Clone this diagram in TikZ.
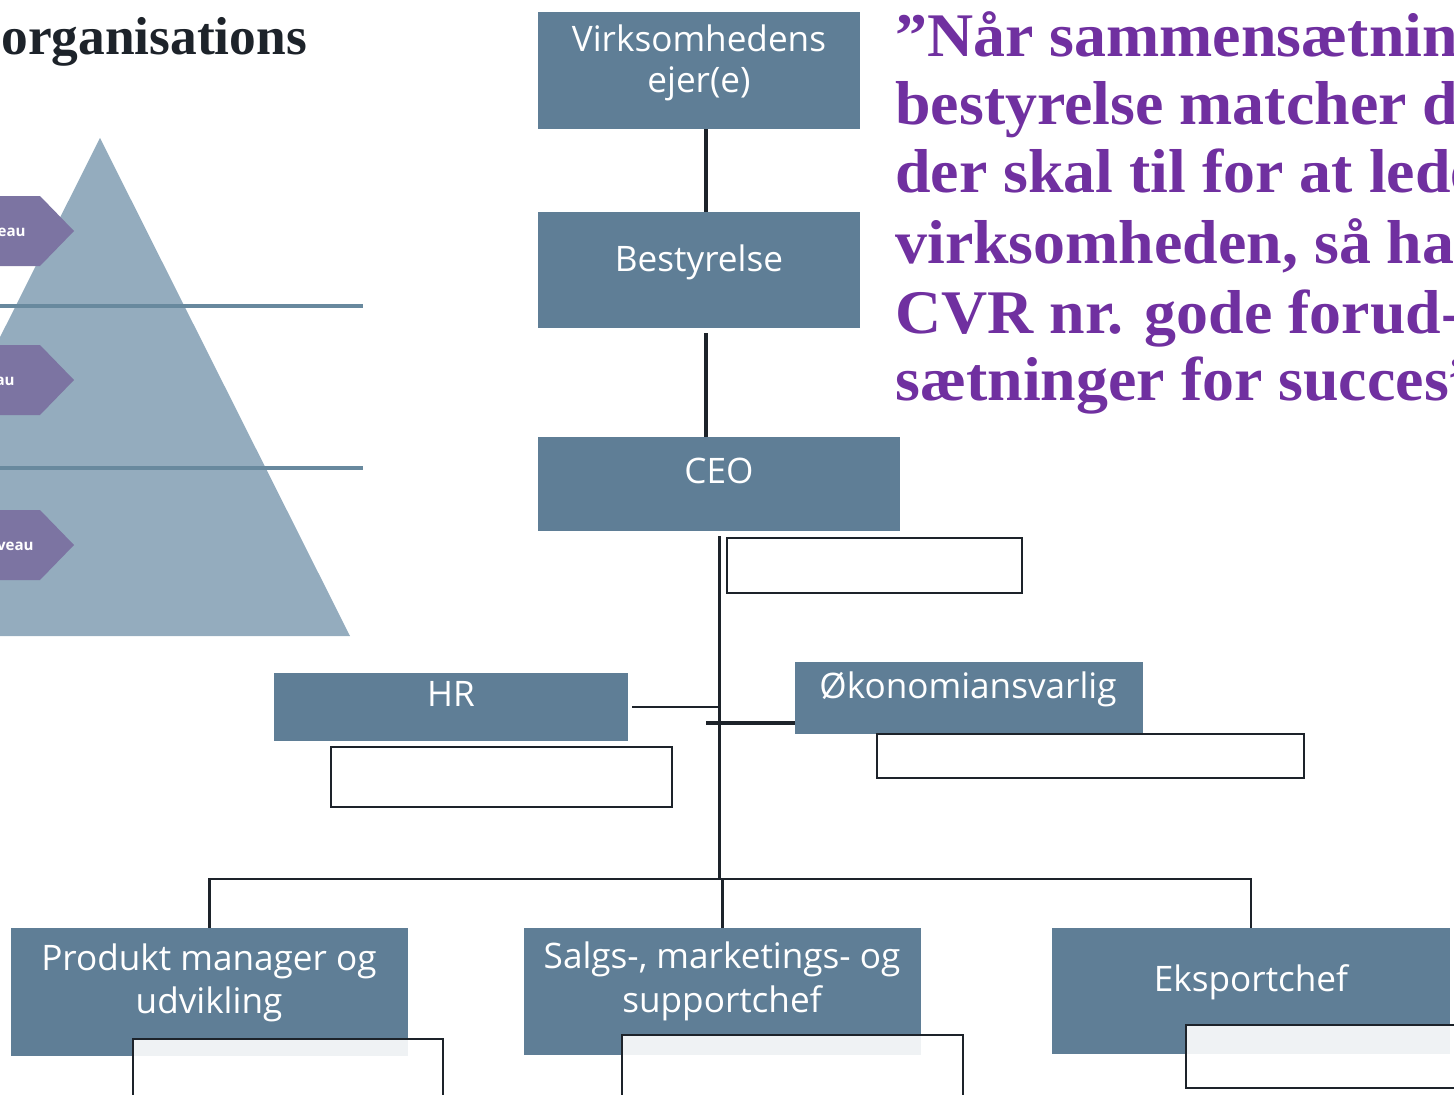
\documentclass[tikz,border=0pt]{standalone}
\usepackage{fontspec}
\setmainfont{Liberation Serif}
\newfontfamily\boxfont{Open Sans}
\newfontfamily\chevfont{Open Sans}
\usetikzlibrary{fit}
\definecolor{boxblue}{RGB}{95,126,150}
\definecolor{pyr}{RGB}{148,172,190}
\definecolor{pline}{RGB}{104,137,158}
\definecolor{chev}{RGB}{124,116,162}
\definecolor{qpurple}{RGB}{112,48,160}
\definecolor{ink}{RGB}{29,35,42}
\begin{document}
\begin{tikzpicture}[x=0.02cm,y=-0.02cm,
  orgbox/.style={fill=boxblue, draw=none, inner sep=0pt},
  emptybox/.style={draw=ink, line width=1.5pt, fill=white, fill opacity=0.9, inner sep=0pt},
  boxtext/.style={text=white, font=\boxfont\fontsize{20}{24}\selectfont, anchor=base, inner sep=0pt},
  chevtext/.style={text=white, font=\chevfont\bfseries\fontsize{8.6}{10}\selectfont, anchor=base east, inner sep=0pt},
  quote/.style={text=qpurple, font=\bfseries\fontsize{35.3}{40}\selectfont, anchor=base west, inner sep=0pt},
  title/.style={text=ink, font=\bfseries\fontsize{30.4}{34}\selectfont, anchor=base west, inner sep=0pt},
  thickconn/.style={draw=ink, line width=2.3pt},
  midconn/.style={draw=ink, line width=1.7pt},
  thinconn/.style={draw=ink, line width=1.3pt},
  levelline/.style={draw=pline, line width=1.9pt},
  chevron/.style={fill=chev}]
\useasboundingbox (0,0) rectangle (1454,1095);
\clip (0,0) rectangle (1454,1095);

% title
\node[title] (title) at (1,55) {organisations};

% pyramid
\fill[pyr] (100,138) -- (350,636) -- (-150,636) -- cycle;
\draw[levelline] (-10,306) -- (363,306);
\draw[levelline] (-10,468) -- (363,468);
\fill[chevron] (-150,196) -- (40,196) -- (74,231) -- (40,266) -- (-150,266) -- cycle;
\fill[chevron] (-150,345) -- (40,345) -- (74,380) -- (40,415) -- (-150,415) -- cycle;
\fill[chevron] (-150,510) -- (40,510) -- (74,545) -- (40,580) -- (-150,580) -- cycle;
\node[chevtext] (c1) at (26,236) {Strategisk niveau};
\node[chevtext] (c2) at (15,385) {Taktisk niveau};
\node[chevtext] (c3) at (34,550) {Operationelt niveau};

% org boxes
\node[orgbox, fit={(538,12) (860,129)}] (own) {};
\node[orgbox, fit={(538,212) (860,328)}] (board) {};
\node[orgbox, fit={(538,437) (900,531)}] (ceo) {};
\node[orgbox, fit={(274,673) (628,741)}] (hr) {};
\node[orgbox, fit={(795,662) (1143,734)}] (okon) {};
\node[orgbox, fit={(11,928) (408,1056)}] (prod) {};
\node[orgbox, fit={(524,928) (921,1055)}] (salg) {};
\node[orgbox, fit={(1052,928) (1450,1054)}] (eks) {};

% box texts
\node[boxtext] (t1a) at (699,52) {Virksomhedens};
\node[boxtext] (t1b) at (699,92) {ejer(e)};
\node[boxtext] (t2) at (699,271) {Bestyrelse};
\node[boxtext] (t3) at (719,483) {CEO};
\node[boxtext] (t4) at (451,706) {HR};
\node[boxtext] (t5) at (968,698) {Økonomiansvarlig};
\node[boxtext] (t6a) at (209,970) {Produkt manager og};
\node[boxtext] (t6b) at (209,1013) {udvikling};
\node[boxtext] (t7a) at (722,968) {Salgs-, marketings- og};
\node[boxtext] (t7b) at (722,1012) {supportchef};
\node[boxtext] (t8) at (1251,991) {Eksportchef};

% connectors
\coordinate (topx) at (706,0);
\draw[thickconn] (own.south -| topx) -- (board.north -| topx);
\draw[thickconn] ([yshift=-0.1cm]board.south -| topx) -- (ceo.north -| topx);
\coordinate (bus) at (719,879);
\draw[midconn] ([yshift=-0.1cm]ceo.south) -- (ceo.south |- bus);
\draw[thinconn] ([xshift=0.08cm]hr.east) -- (hr.east -| bus);
\coordinate (okj) at (706,723);
\draw[thickconn] (okj) -- (okj -| okon.west);
\draw[thinconn] (prod.north) -- (prod.north |- bus) -- (eks.north |- bus) -- (eks.north);
\draw[thinconn] (salg.north) -- (salg.north |- bus);

% empty boxes
\node[emptybox, fit={(727,538) (1022,593)}] (e1) {};
\node[emptybox, fit={(331,747) (672,807)}] (e2) {};
\node[emptybox, fit={(877,734) (1304,778)}] (e3) {};
\node[emptybox, fit={(133,1039) (443,1120)}] (e4) {};
\node[emptybox, fit={(622,1035) (963,1120)}] (e5) {};
\node[emptybox, fit={(1186,1025) (1480,1088)}] (e6) {};

% quote
\node[quote] (q1) at (895,57) {\scalebox{1.03}[1]{”Når sammensætningen af}};
\node[quote] (q2) at (895,125) {\scalebox{1.03}[1]{bestyrelse matcher det,}};
\node[quote] (q3) at (895,193) {\scalebox{1.03}[1]{der skal til for at lede}};
\node[quote] (q4) at (895,263) {\scalebox{1.03}[1]{virksomheden, så har}};
\node[quote] (q5) at (895,333) {\scalebox{1.03}[1]{CVR nr. gode forud-}};
\node[quote] (q6) at (895,400) {\scalebox{1.03}[1]{sætninger for succes”}};
\end{tikzpicture}
\end{document}
